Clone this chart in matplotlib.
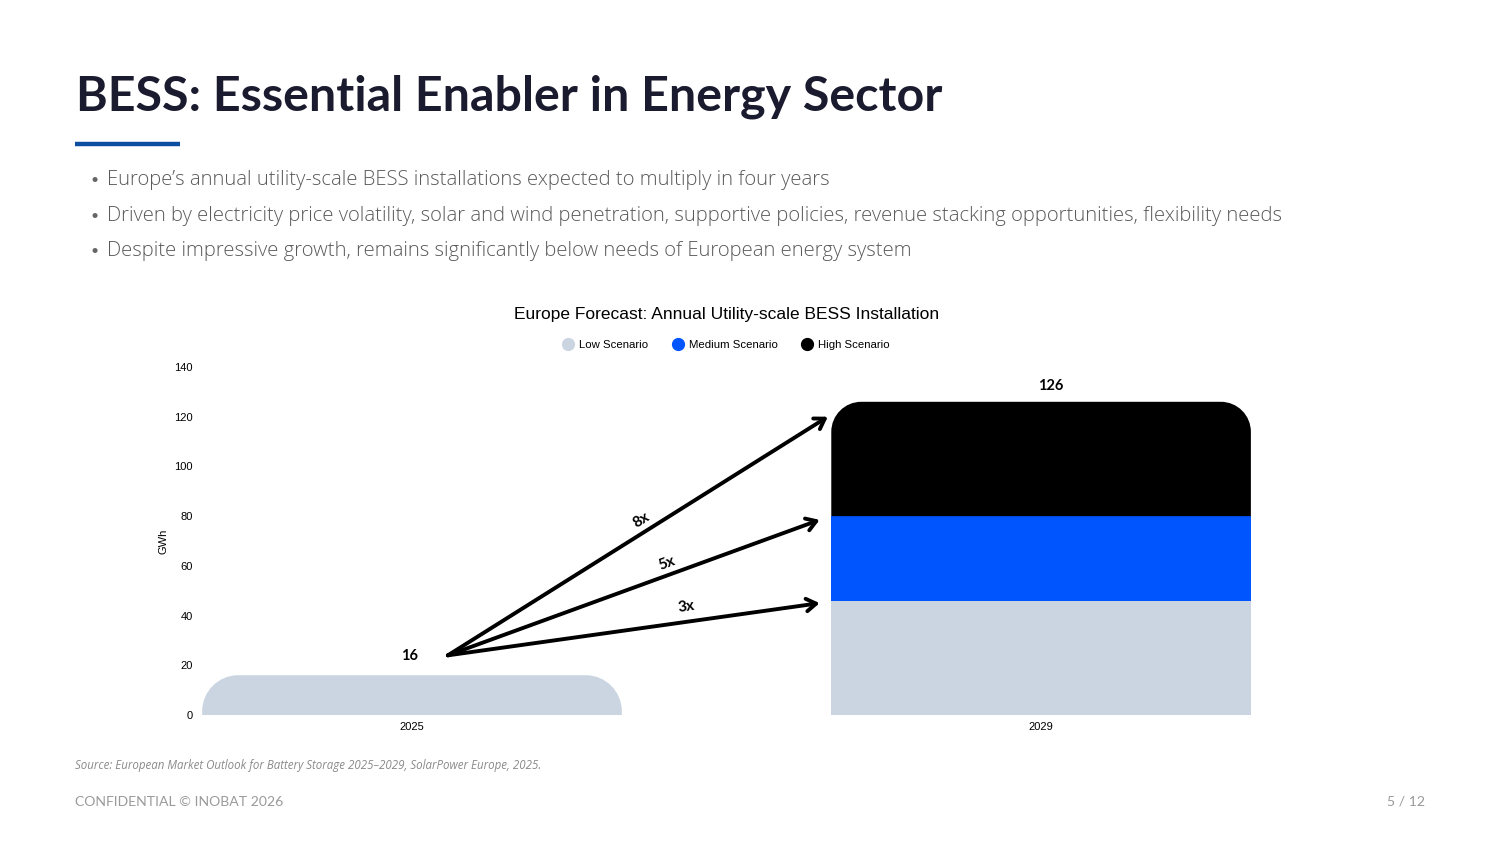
import matplotlib
matplotlib.use("Agg")
import matplotlib.pyplot as plt
from matplotlib.path import Path
from matplotlib.patches import PathPatch
from matplotlib.lines import Line2D
import numpy as np

# data
years = ["2025", "2029"]
base_2025 = 16
low_2029 = 46
medium_2029 = 34     # added on top of low
high_2029 = 46       # added on top of medium
multipliers = ["3x", "5x", "8x"]
scenarios = ["Low Scenario", "Medium Scenario", "High Scenario"]
colors = ["#cbd5e1", "#0055ff", "#000000"]

bullets = [
    "Europe\u2019s annual utility-scale BESS installations expected to multiply in four years",
    "Driven by electricity price volatility, solar and wind penetration, supportive policies, revenue stacking opportunities, flexibility needs",
    "Despite impressive growth, remains significantly below needs of European energy system",
]

fig = plt.figure(figsize=(15, 8.44), dpi=100)
W, H = 1500, 844


def fx(px):
    return px / W


def fy(py):
    return 1 - py / H


# slide header
fig.text(fx(76), fy(97), "BESS: Essential Enabler in Energy Sector", fontsize=34.8,
         fontweight="bold", color="#1b1b2f", family="Lato", va="center")
fig.add_artist(Line2D([fx(75), fx(180)], [fy(144), fy(144)], color="#0b4ea2", lw=3.2,
                      solid_capstyle="butt"))
for i, b in enumerate(bullets):
    y = 180 + i * 35.5
    fig.text(fx(91), fy(y), "\u2022", fontsize=10, color="#666666", va="center", family="Lato")
    fig.text(fx(107), fy(y), b, fontsize=14.6, color="#5a5a5a", va="center",
             family="Open Sans", fontweight="light")

# chart
ax = fig.add_axes([200 / W, 1 - 715 / H, 1060 / W, 348 / H])
x = np.arange(len(years))
ax.set_xlim(-0.337, 1.348)
ax.set_ylim(0, 140)
for s in ax.spines.values():
    s.set_visible(False)
ax.set_xticks(x)
ax.set_xticklabels(years, fontsize=8, family="Liberation Sans")
ax.set_yticks(range(0, 141, 20))
ax.tick_params(axis="y", labelsize=8, length=0, pad=5)
ax.tick_params(axis="x", length=0, pad=5)
for t in ax.get_yticklabels():
    t.set_family("Liberation Sans")
ax.set_ylabel("GWh", fontsize=8, family="Liberation Sans", labelpad=4)

fig.text(fx(727), fy(314), "Europe Forecast: Annual Utility-scale BESS Installation",
         fontsize=12.5, family="Liberation Sans", ha="center", va="center")

bw = 0.667
fig.canvas.draw()
inv = ax.transData.inverted()
p0 = inv.transform((0, 0))
p1 = inv.transform((1, 1))
ux, uy = p1[0] - p0[0], p1[1] - p0[1]


def rounded_top(ax, xc, bottom, height, width, color, r_px):
    rx = r_px * ux
    r_y = min(r_px * uy, height)
    left, right, top = xc - width / 2, xc + width / 2, bottom + height
    k = 0.5523
    verts = [(left, bottom), (left, top - r_y),
             (left, top - r_y + k * r_y), (left + rx - k * rx, top), (left + rx, top),
             (right - rx, top),
             (right - rx + k * rx, top), (right, top - r_y + k * r_y), (right, top - r_y),
             (right, bottom), (left, bottom)]
    codes = [Path.MOVETO, Path.LINETO,
             Path.CURVE4, Path.CURVE4, Path.CURVE4,
             Path.LINETO,
             Path.CURVE4, Path.CURVE4, Path.CURVE4,
             Path.LINETO, Path.CLOSEPOLY]
    ax.add_patch(PathPatch(Path(verts, codes), facecolor=color, edgecolor="none"))


rounded_top(ax, x[0], 0, base_2025, bw, colors[0], 36)
ax.bar(x[1], low_2029, width=bw, color=colors[0])
ax.bar(x[1], medium_2029, bottom=low_2029, width=bw, color=colors[1])
rounded_top(ax, x[1], low_2029 + medium_2029, high_2029, bw, colors[2], 30)

total = low_2029 + medium_2029 + high_2029
lab_font = dict(fontsize=10.5, fontweight="bold", family="Lato", ha="center")
ax.annotate(str(base_2025), (x[0], base_2025), xytext=(-2, 9), textcoords="offset points",
            va="bottom", **lab_font)
ax.annotate(str(total), (x[1] + 0.015, total), xytext=(0, 6), textcoords="offset points",
            va="bottom", **lab_font)

# growth arrows
start = (x[0] + 0.057, base_2025 + 8)
targets = [low_2029 - 1, low_2029 + medium_2029 - 1.5, total - 6]
ends_x = [x[1] - 0.352, x[1] - 0.352, x[1] - 0.339]
label_t = [0.64, 0.59, 0.51]
label_off = [15, 12, 14]
for tgt, ex, m, t, off in zip(targets, ends_x, multipliers, label_t, label_off):
    ax.annotate("", xy=(ex, tgt), xytext=start,
                arrowprops=dict(arrowstyle="->,head_length=0.7,head_width=0.45",
                                lw=2.8, color="black", shrinkA=0, shrinkB=0))
    d0 = ax.transData.transform(start)
    d1 = ax.transData.transform((ex, tgt))
    ang = np.degrees(np.arctan2(d1[1] - d0[1], d1[0] - d0[0]))
    mx = start[0] + t * (ex - start[0])
    my = start[1] + t * (tgt - start[1])
    ax.annotate(m, (mx, my), xytext=(0, off * 0.72), textcoords="offset points",
                rotation=ang, rotation_mode="anchor", va="center", fontsize=11,
                fontweight="bold", family="Lato", ha="center")

# legend
handles = [Line2D([], [], marker="o", ls="", markersize=8.5, markerfacecolor=c,
                  markeredgecolor=c) for c in colors]
fig.legend(handles, scenarios, loc="center", bbox_to_anchor=(fx(726), fy(345)), ncol=3,
           frameon=False, prop={"family": "Liberation Sans", "size": 8.2},
           handletextpad=0.45, columnspacing=2.1, handlelength=1.0)

# footer
fig.text(fx(75), fy(765), "Source: European Market Outlook for Battery Storage 2025\u20132029, SolarPower Europe, 2025.",
         fontsize=8.3, style="italic", color="#8a8a8a", family="Open Sans", va="center")
fig.text(fx(75), fy(802), "CONFIDENTIAL \u00a9 INOBAT 2026", fontsize=10.1, color="#9a9a9a",
         family="Lato", va="center")
fig.text(fx(1425), fy(802), "5 / 12", fontsize=10.1, color="#9a9a9a", family="Lato",
         va="center", ha="right")

fig.savefig("out.png", dpi=100)
